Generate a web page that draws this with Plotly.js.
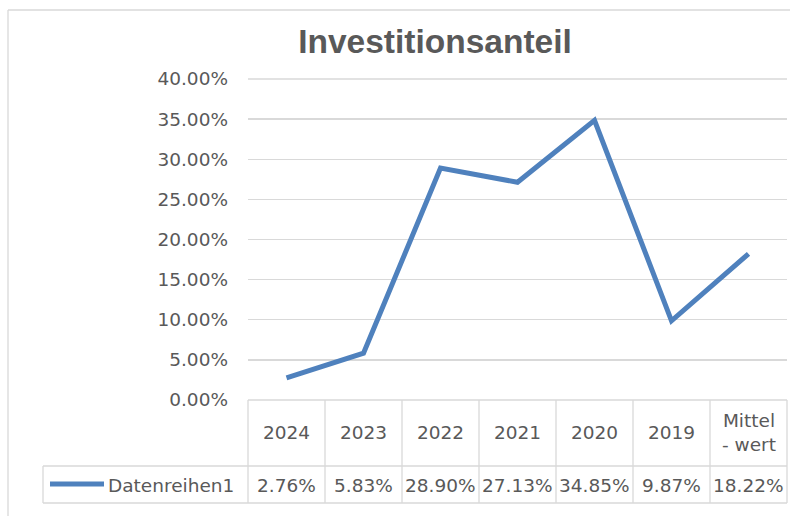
<!DOCTYPE html>
<html>
<head>
<meta charset="utf-8">
<script src="https://cdn.plot.ly/plotly-3.0.1.min.js"></script>
<style>
  html, body { margin: 0; padding: 0; background: #ffffff; }
  #chart { width: 790px; height: 516px; }
</style>
</head>
<body>
<div id="chart"></div>
<script>
// ---- data ----
const categories = ["2024", "2023", "2022", "2021", "2020", "2019", "Mittel-wert"];
const categoryLabels = ["2024", "2023", "2022", "2021", "2020", "2019", "Mittel<br>- wert"];
const seriesName = "Datenreihen1";
const values = [0.0276, 0.0583, 0.2890, 0.2713, 0.3485, 0.0987, 0.1822];
const yTickVals = [0, 0.05, 0.10, 0.15, 0.20, 0.25, 0.30, 0.35, 0.40];
const chartTitle = "Investitionsanteil";

// ---- styling ----
const FONT = "'DejaVu Sans', sans-serif";
const TITLE_FONT = "'Liberation Sans', Arial, sans-serif";
const FS = 18.5;
const TEXT = "#595959";
const GRID = "#d9d9d9";
const BLUE = "#4f81bd";

const W = 790, H = 516;
const M = { l: 248, r: 3, t: 79, b: 116 };
const plotW = W - M.l - M.r, plotH = H - M.t - M.b;
const px2x = p => (p - M.l) / plotW;        // pixel x -> paper x
const px2y = p => (H - M.b - p) / plotH;    // pixel y -> paper y

const n = categories.length;
const shapes = [];
const line = (x0, y0, x1, y1, color, width, layer) => ({
  type: "line", xref: "paper", yref: "paper", x0, y0, x1, y1,
  line: { color: color || GRID, width: width || 1.3 }, layer: layer || "above"
});

// chart outer border (top & left visible)
shapes.push(line(px2x(8), px2y(10), px2x(800), px2y(10)));
shapes.push(line(px2x(8), px2y(10), px2x(8), px2y(530)));

// top gridline (edge of the value range)
shapes.push(line(0, 1, 1, 1, GRID, 1.3, "below"));

// data table grid
const yTop = 0, yMid = px2y(466), yBot = px2y(503);
shapes.push(line(0, yTop, 1, yTop));
shapes.push(line(px2x(43), yMid, 1, yMid));
shapes.push(line(px2x(43), yBot, 1, yBot));
shapes.push(line(px2x(43), yMid, px2x(43), yBot));
for (let i = 0; i <= n; i++) {
  shapes.push(line(i / n, yTop, i / n, yBot));
}
// legend key line
shapes.push(line(px2x(50), px2y(484), px2x(104), px2y(484), BLUE, 5));

const annotations = [];
categories.forEach((c, i) => {
  annotations.push({
    x: i, xref: "x", y: px2y(433), yref: "paper",
    text: categoryLabels[i], showarrow: false,
    xanchor: "center", yanchor: "middle",
    font: { family: FONT, size: FS, color: TEXT }
  });
  annotations.push({
    x: i, xref: "x", y: px2y(485), yref: "paper",
    text: (values[i] * 100).toFixed(2) + "%", showarrow: false,
    xanchor: "center", yanchor: "middle",
    font: { family: FONT, size: FS, color: TEXT }
  });
});
annotations.push({
  x: px2x(106), xref: "paper", y: px2y(485), yref: "paper",
  text: seriesName, showarrow: false,
  xanchor: "left", yanchor: "middle",
  font: { family: FONT, size: FS, color: TEXT }
});

const trace = {
  type: "scatter", mode: "lines",
  x: categories, y: values, name: seriesName,
  line: { color: BLUE, width: 5 },
  hoverinfo: "skip"
};

const layout = {
  width: W, height: H,
  margin: M,
  paper_bgcolor: "#ffffff", plot_bgcolor: "#ffffff",
  showlegend: false,
  title: {
    text: "<b>" + chartTitle + "</b>",
    x: 435 / W, xref: "container", xanchor: "center",
    y: 1 - 41 / H, yref: "container", yanchor: "middle",
    font: { family: TITLE_FONT, size: 33.5, color: TEXT }
  },
  xaxis: {
    type: "category",
    range: [-0.5, n - 0.5],
    showticklabels: false, showgrid: false, zeroline: false, showline: false,
    ticks: ""
  },
  yaxis: {
    range: [0, 0.4],
    tickvals: yTickVals,
    tickformat: ".2%",
    showgrid: true, gridcolor: GRID, gridwidth: 1.3,
    zeroline: false, showline: false, ticks: "",
    ticklabelstandoff: 19,
    tickfont: { family: FONT, size: FS, color: TEXT }
  },
  shapes: shapes,
  annotations: annotations
};

Plotly.newPlot("chart", [trace], layout, { displayModeBar: false, staticPlot: true });
</script>
</body>
</html>
